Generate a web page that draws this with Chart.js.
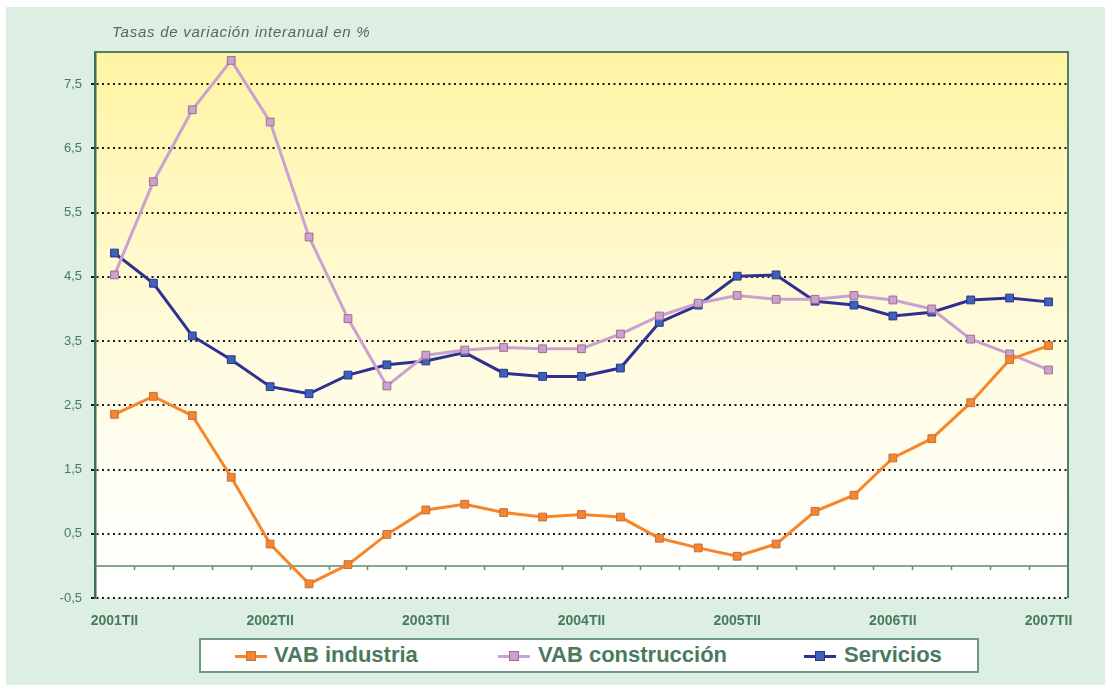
<!DOCTYPE html>
<html>
<head>
<meta charset="utf-8">
<script src="https://cdn.jsdelivr.net/npm/chart.js@4"></script>
<style>
  body { margin: 0; background: #fff; }
  #wrap { position: relative; width: 1105px; height: 685px; overflow: hidden; }
  #panel { position: absolute; left: 6px; top: 7px; right: 0; bottom: 0; background: #ddeee2; }
  #chart { position: absolute; left: 0; top: 0; }
  #title { position: absolute; left: 112px; top: 23px; font: italic 15px "Liberation Sans", Arial, sans-serif; color: #4f6b5c; letter-spacing: 0.75px; }
  #legend { position: absolute; left: 199px; top: 638px; width: 776px; height: 31px; background: #fff; border: 2px solid #6f9a80; }
  .item { position: absolute; top: 2px; height: 31px; line-height: 31px; font: bold 22px "Liberation Sans", Arial, sans-serif; color: #4a7a5e; white-space: nowrap; }
  .mk { position: absolute; top: 15px; width: 32px; height: 3px; }
  .mk i { position: absolute; left: 11px; top: -4px; width: 8px; height: 8px; border: 1px solid; }
</style>
</head>
<body>
<div id="wrap">
  <div id="panel"></div>
  <canvas id="chart" width="1105" height="685"></canvas>
  <div id="title">Tasas de variación interanual en %</div>
  <div id="legend">
    <div class="mk" style="left:34px;background:#f7862a"><i style="background:#f7862a;border-color:#c07048"></i></div>
    <div class="item" style="left:73px">VAB industria</div>
    <div class="mk" style="left:297px;background:#c9a2d2"><i style="background:#c9a2d2;border-color:#a36c8c"></i></div>
    <div class="item" style="left:337px">VAB construcción</div>
    <div class="mk" style="left:603px;background:#2e3192"><i style="background:#3d62b8;border-color:#2e3192"></i></div>
    <div class="item" style="left:643px">Servicios</div>
  </div>
</div>
<script>
// quarters 2001TII .. 2007TII
const quarters = [
  "2001TII","2001TIII","2001TIV","2002TI","2002TII","2002TIII","2002TIV","2003TI",
  "2003TII","2003TIII","2003TIV","2004TI","2004TII","2004TIII","2004TIV","2005TI",
  "2005TII","2005TIII","2005TIV","2006TI","2006TII","2006TIII","2006TIV","2007TI","2007TII"
];

const industria = [2.36,2.64,2.34,1.38,0.34,-0.28,0.02,0.49,0.87,0.96,0.83,0.76,0.80,0.76,0.43,0.28,0.15,0.34,0.85,1.10,1.68,1.98,2.54,3.21,3.43];
const construccion = [4.53,5.98,7.10,7.87,6.91,5.12,3.85,2.80,3.28,3.36,3.40,3.38,3.38,3.61,3.89,4.09,4.21,4.15,4.15,4.21,4.14,4.00,3.53,3.30,3.05];
const servicios = [4.87,4.40,3.58,3.21,2.79,2.68,2.97,3.13,3.19,3.32,3.00,2.95,2.95,3.08,3.79,4.06,4.51,4.53,4.12,4.06,3.89,3.95,4.14,4.17,4.11];

const yTicks = [-0.5,0.5,1.5,2.5,3.5,4.5,5.5,6.5,7.5];

const green = '#4a7a5e';

// plot background gradient, frame, zero line with ticks
const frame = {
  id: 'frame',
  beforeDraw(chart) {
    const {ctx, chartArea: a} = chart;
    const g = ctx.createLinearGradient(0, a.top, 0, a.bottom);
    g.addColorStop(0, '#fff4a2');
    g.addColorStop(0.45, '#fffad4');
    g.addColorStop(0.8, '#fffef6');
    g.addColorStop(1, '#ffffff');
    ctx.save();
    ctx.fillStyle = g;
    ctx.fillRect(a.left, a.top, a.right - a.left, a.bottom - a.top);
    ctx.restore();
  },
  beforeDatasetsDraw(chart) {
    const {ctx, chartArea: a, scales} = chart;
    const y0 = scales.y.getPixelForValue(0);
    ctx.save();
    ctx.strokeStyle = '#5e8c70';
    ctx.lineWidth = 1.5;
    ctx.beginPath();
    ctx.moveTo(a.left, y0);
    ctx.lineTo(a.right, y0);
    for (let i = 1; i < quarters.length; i++) {
      const x = Math.round((scales.x.getPixelForValue(i - 1) + scales.x.getPixelForValue(i)) / 2) + 0.5;
      ctx.moveTo(x, y0);
      ctx.lineTo(x, y0 + 4);
    }
    ctx.stroke();
    // top and right frame
    ctx.strokeStyle = '#4f8063';
    ctx.lineWidth = 2;
    ctx.beginPath();
    ctx.moveTo(a.left, a.top);
    ctx.lineTo(a.right, a.top);
    ctx.lineTo(a.right, a.bottom);
    ctx.stroke();
    ctx.restore();
  }
};

function series(label, data, line, fill, edge, w) {
  return {
    label, data,
    borderColor: line, borderWidth: w,
    pointStyle: 'rect', pointRadius: 5.5, pointHoverRadius: 5.5,
    pointBackgroundColor: fill, pointBorderColor: edge, pointBorderWidth: 1,
    tension: 0
  };
}

new Chart(document.getElementById('chart').getContext('2d'), {
  type: 'line',
  data: {
    labels: quarters,
    datasets: [
      series('VAB industria', industria, '#f7862a', '#f7862a', '#c07048', 3),
      series('VAB construcción', construccion, '#c9a2d2', '#c9a2d2', '#a36c8c', 3),
      series('Servicios', servicios, '#2e3192', '#3d62b8', '#2e3192', 3)
    ]
  },
  options: {
    responsive: false,
    animation: false,
    layout: { padding: { left: 45, right: 37, top: 52, bottom: 57 } },
    plugins: { legend: { display: false }, title: { display: false }, tooltip: { enabled: false } },
    scales: {
      x: {
        offset: true,
        grid: { display: false },
        border: { display: false },
        afterFit(s) { s.height = 30; },
        ticks: {
          autoSkip: false, maxRotation: 0, padding: 7,
          color: green, font: { family: 'Liberation Sans', size: 14, weight: 'bold' },
          callback: (v, i) => (i % 4 === 0 ? quarters[i] : '')
        }
      },
      y: {
        min: -0.5, max: 8,
        afterFit(s) { s.width = 50; },
        afterBuildTicks(s) { s.ticks = yTicks.map(v => ({ value: v })); },
        grid: { color: '#1a1a1a', lineWidth: 2, tickLength: 4 },
        border: { color: '#3f6f52', width: 2.5, dash: [2, 3.5] },
        ticks: {
          padding: 9, color: green,
          font: { family: 'Liberation Sans', size: 13 },
          callback: v => v.toFixed(1).replace('.', ',')
        }
      }
    }
  },
  plugins: [frame]
});
</script>
</body>
</html>
